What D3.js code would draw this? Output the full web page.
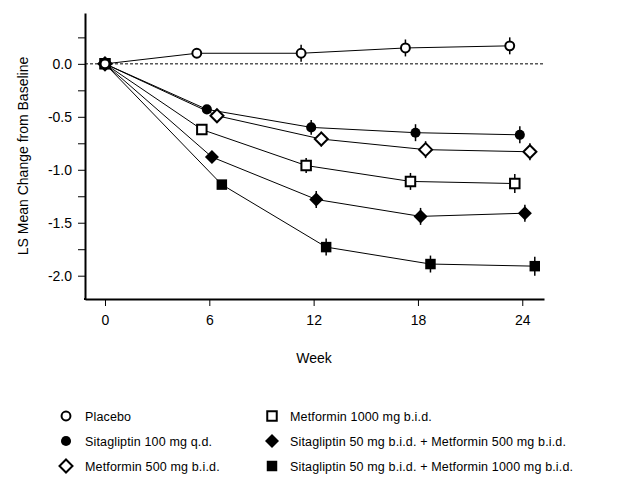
<!DOCTYPE html>
<html>
<head>
<meta charset="utf-8">
<script src="https://cdn.jsdelivr.net/npm/d3@7/dist/d3.min.js"></script>
<style>
  html, body { margin: 0; padding: 0; background: #fff; }
  svg { display: block; font-family: "Liberation Sans", Arial, sans-serif; }
</style>
</head>
<body>
<svg id="chart" width="625" height="478"></svg>
<script>
// ---- data ----
const weeks = [0, 6, 12, 18, 24];
const seriesNames = [
  "Placebo",
  "Sitagliptin 100 mg q.d.",
  "Metformin 500 mg b.i.d.",
  "Metformin 1000 mg b.i.d.",
  "Sitagliptin 50 mg b.i.d. + Metformin 500 mg b.i.d.",
  "Sitagliptin 50 mg b.i.d. + Metformin 1000 mg b.i.d."
];
const placebo     = [0, 0.10, 0.10, 0.15, 0.17];
const sita100     = [0, -0.43, -0.60, -0.65, -0.67];
const met500      = [0, -0.49, -0.71, -0.81, -0.83];
const met1000     = [0, -0.62, -0.96, -1.11, -1.13];
const sitaMet500  = [0, -0.88, -1.28, -1.44, -1.41];
const sitaMet1000 = [0, -1.14, -1.73, -1.89, -1.91];
const placeboSE     = [0, 0.04, 0.08, 0.08, 0.08];
const sita100SE     = [0, 0.04, 0.07, 0.08, 0.08];
const met500SE      = [0, 0.04, 0.07, 0.08, 0.08];
const met1000SE     = [0, 0.04, 0.07, 0.08, 0.09];
const sitaMet500SE  = [0, 0.04, 0.08, 0.08, 0.08];
const sitaMet1000SE = [0, 0.04, 0.08, 0.08, 0.09];
const yTickValues = [0.25, 0, -0.25, -0.5, -0.75, -1, -1.25, -1.5, -1.75, -2];
const yTickLabels = ["", "0.0", "", "-0.5", "", "-1.0", "", "-1.5", "", "-2.0"];
const xTickValues = [0, 6, 12, 18, 24];
const xTickLabels = ["0", "6", "12", "18", "24"];

// ---- styling per series ----
const symbols  = ["circle", "circle", "diamond", "square", "diamond", "square"];
const filled   = [false, true, false, false, true, true];
const dodge    = [-0.72, -0.14, 0.44, -0.43, 0.15, 0.72]; // horizontal jitter (weeks)
const values   = [placebo, sita100, met500, met1000, sitaMet500, sitaMet1000];
const errors   = [placeboSE, sita100SE, met500SE, met1000SE, sitaMet500SE, sitaMet1000SE];

const svg = d3.select("#chart");
svg.append("rect").attr("width", 625).attr("height", 478).attr("fill", "#fff");

const x = d3.scaleLinear().domain([-1.15, 25.25]).range([85, 544]);
const y = d3.scaleLinear().domain([0.48, -2.22]).range([13, 299]);

// axes
const yAxis = d3.axisLeft(y).tickValues(yTickValues)
  .tickFormat((d, i) => yTickLabels[i]).tickSize(7).tickSizeOuter(0).tickPadding(6);
const gy = svg.append("g").attr("transform", "translate(85,0)").call(yAxis);
gy.select(".domain").attr("stroke-width", 2);
gy.selectAll("text").attr("font-size", 14).attr("fill", "#000");

const xAxis = d3.axisBottom(x).tickValues(xTickValues)
  .tickFormat((d, i) => xTickLabels[i]).tickSize(7).tickSizeOuter(0).tickPadding(9);
const gx = svg.append("g").attr("transform", "translate(0,299)").call(xAxis);
gx.select(".domain").attr("stroke-width", 2);
gx.selectAll("text").attr("font-size", 14).attr("fill", "#000");

// fix corner so axes meet
svg.append("line").attr("x1", 84).attr("x2", 86).attr("y1", 299).attr("y2", 299)
  .attr("stroke", "#000").attr("stroke-width", 2);

// axis titles
svg.append("text").attr("x", 314).attr("y", 363).attr("text-anchor", "middle")
  .attr("font-size", 14).text("Week");
svg.append("text").attr("transform", "translate(28,156) rotate(-90)")
  .attr("text-anchor", "middle").attr("font-size", 14).text("LS Mean Change from Baseline");

// zero reference line
svg.append("line").attr("x1", x.range()[0]).attr("x2", x.range()[1])
  .attr("y1", y(0)).attr("y2", y(0))
  .attr("stroke", "#000").attr("stroke-width", 1).attr("stroke-dasharray", "3,2");

function sym(type) {
  if (type === "circle") return d3.symbol().type(d3.symbolCircle).size(62)();
  if (type === "square") return d3.symbol().type(d3.symbolSquare).size(90)();
  return "M0,-6.5L6.5,0L0,6.5L-6.5,0Z";
}
function symFilled(type) {
  if (type === "circle") return d3.symbol().type(d3.symbolCircle).size(80)();
  if (type === "square") return d3.symbol().type(d3.symbolSquare).size(110)();
  return "M0,-7L7,0L0,7L-7,0Z";
}

const px = (s, i) => x(weeks[i] + (weeks[i] === 0 ? 0 : dodge[s]));

// lines first
values.forEach((vals, s) => {
  const line = d3.line().x((d, i) => px(s, i)).y(d => y(d));
  svg.append("path").datum(vals).attr("d", line)
    .attr("fill", "none").attr("stroke", "#000").attr("stroke-width", 1);
});

// draw order for markers so that placebo and open square sit on top at week 0
const drawOrder = [5, 4, 1, 2, 3, 0];
drawOrder.forEach(s => {
  const g = svg.append("g");
  values[s].forEach((v, i) => {
    const e = errors[s][i];
    if (e > 0) {
      g.append("line").attr("x1", px(s, i)).attr("x2", px(s, i))
        .attr("y1", y(v + e)).attr("y2", y(v - e))
        .attr("stroke", "#000").attr("stroke-width", 1.5);
    }
    const p = g.append("path").attr("transform", `translate(${px(s, i)},${y(v)})`);
    if (filled[s]) {
      p.attr("d", symFilled(symbols[s])).attr("fill", "#000");
    } else {
      p.attr("d", sym(symbols[s])).attr("fill", "#fff").attr("stroke", "#000").attr("stroke-width", 2);
    }
  });
});

// legend
const legendCols = [66, 272];
const legendTextX = [85, 290];
const legendRows = [416, 441, 466];
seriesNames.forEach((name, s) => {
  const col = Math.floor(s / 3), row = s % 3;
  const lx = legendCols[col], ly = legendRows[row];
  const p = svg.append("path").attr("transform", `translate(${lx},${ly})`);
  if (filled[s]) {
    p.attr("d", symFilled(symbols[s])).attr("fill", "#000");
  } else {
    p.attr("d", sym(symbols[s])).attr("fill", "#fff").attr("stroke", "#000").attr("stroke-width", 2);
  }
  svg.append("text").attr("x", legendTextX[col]).attr("y", ly + 4.5)
    .attr("font-size", 12.5).attr("letter-spacing", 0.15).text(name);
});
</script>
</body>
</html>
